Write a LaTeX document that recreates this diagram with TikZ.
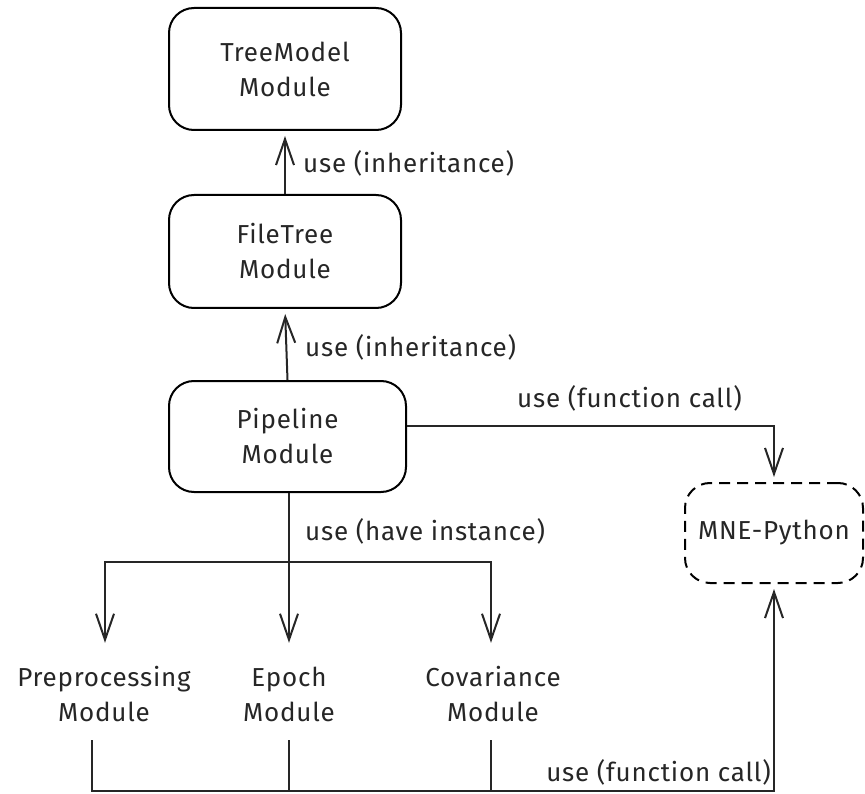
\documentclass[tikz,border=0pt]{standalone}
\usepackage{fontspec}
\setmainfont{Fira Sans}[LetterSpace=3]
\usetikzlibrary{arrows.meta}
\begin{document}
\begin{tikzpicture}[x=1pt,y=-1pt,
  every node/.style={font=\fontsize{26}{35}\selectfont, align=center, text=black!85},
  box/.style={draw, line width=2pt, rounded corners=25pt, inner sep=0pt},
  dbox/.style={box, dashed, dash pattern=on 11pt off 7pt},
  lbl/.style={inner sep=0pt, anchor=west},
  txt/.style={inner sep=0pt, minimum height=92pt},
  conn/.style={line width=2pt, draw=black!85},
  arr/.style={conn, -{Straight Barb[length=26pt,width=18pt,line width=2pt]}, shorten >=5pt}
]
\useasboundingbox (0,0) rectangle (865,794);

\node[box, minimum width=232pt, minimum height=122pt] (tree) at (285,69) {TreeModel\\Module};
\node[box, minimum width=232pt, minimum height=113pt] (file) at (285,251.5) {FileTree\\Module};
\node[box, minimum width=237pt, minimum height=111pt] (pipe) at (287.5,436.5) {Pipeline\\Module};
\node[dbox, minimum width=178pt, minimum height=100pt] (mne) at (774,533) {MNE-Python};

\node[txt] (pre) at (104,694) {Preprocessing\\Module};
\node[txt] (epoch) at (289,694) {Epoch\\Module};
\node[txt] (cov) at (493,694) {Covariance\\Module};

\node[lbl] (l1) at (303,163) {use (inheritance)};
\node[lbl] (l2) at (305,347) {use (inheritance)};
\node[lbl] (l3) at (517,398) {use (function call)};
\node[lbl] (l4) at (305,531) {use (have instance)};
\node[lbl, anchor=east] (l5) at (771,772) {use (function call)};

\coordinate (br) at (289,562);
\coordinate (bl) at (774,791);

\draw[arr] (file.north) -- (tree.south);
\draw[arr] (pipe.north) -- (file.south);
\draw[arr] ([yshift=10.5pt]pipe.east) -| (mne.north);
\draw[arr] (pipe.south -| epoch.north) -- (epoch.north);
\draw[arr] (br) -| ([xshift=1pt]pre.north);
\draw[arr] (br) -| ([xshift=-2pt]cov.north);
\draw[arr] ([xshift=-12pt]pre.south) |- (bl) -- (mne.south);
\draw[conn] (epoch.south) -- (epoch.south |- bl);
\draw[conn] ([xshift=-2pt]cov.south) -- ([xshift=-2pt]cov.south |- bl);
\end{tikzpicture}
\end{document}
